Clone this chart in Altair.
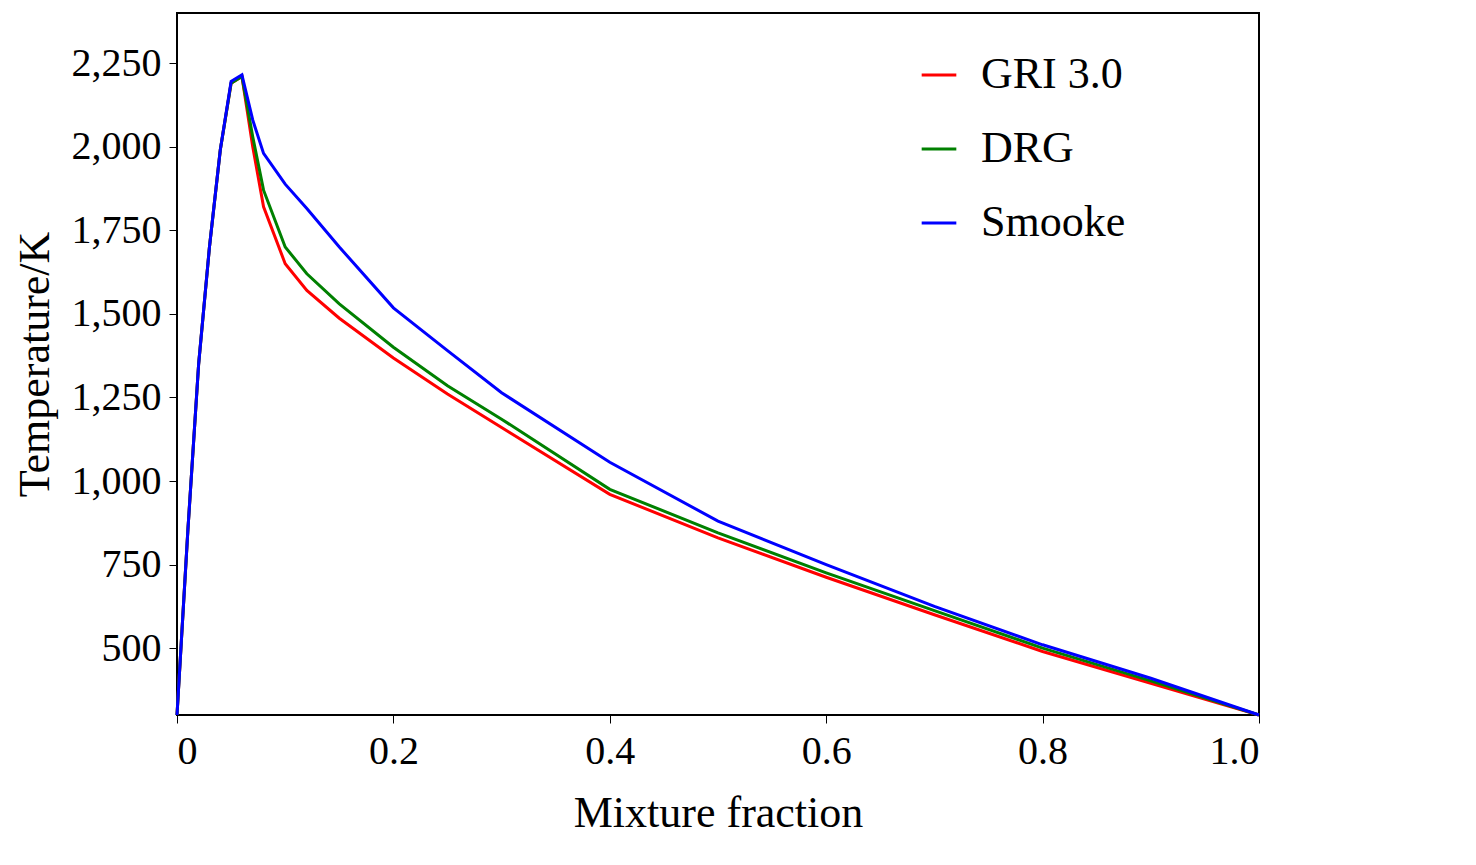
import altair as alt
import pandas as pd

x_gri = [0, 0.01, 0.02, 0.03, 0.04, 0.05, 0.06, 0.07, 0.08, 0.1, 0.12, 0.15, 0.2, 0.25, 0.3, 0.4, 0.5, 0.6, 0.7, 0.8, 0.9, 1.0]
t_gri = [300, 850, 1350, 1700, 1990, 2190, 2210, 2000, 1820, 1650, 1570, 1487, 1368, 1260, 1160, 960, 830, 712, 600, 490, 395, 300]
t_drg = [300, 850, 1350, 1700, 1990, 2190, 2210, 2030, 1870, 1700, 1620, 1530, 1400, 1285, 1185, 975, 845, 725, 612, 500, 402, 300]
t_smk = [300, 850, 1350, 1700, 1990, 2195, 2215, 2080, 1980, 1888, 1815, 1700, 1518, 1390, 1264, 1056, 880, 750, 625, 510, 410, 300]

names = ["GRI 3.0", "DRG", "Smooke"]
colors = ["#ff0000", "#008000", "#0000ff"]

rows = []
for name, ts in zip(names, [t_gri, t_drg, t_smk]):
    for xv, tv in zip(x_gri, ts):
        rows.append({"x": xv, "T": tv, "model": name})
df = pd.DataFrame(rows)

font = "Liberation Serif"
chart = alt.Chart(df).mark_line(strokeWidth=3).encode(
    x=alt.X("x:Q", title="Mixture fraction",
            scale=alt.Scale(domain=[0, 1], nice=False),
            axis=alt.Axis(values=[0, 0.2, 0.4, 0.6, 0.8, 1.0],
                          labelExpr="datum.value == 0 ? '0' : format(datum.value, '.1f')",
                          titlePadding=20)),
    y=alt.Y("T:Q", title="Temperature/K",
            scale=alt.Scale(domain=[300, 2400], nice=False),
            axis=alt.Axis(values=[500, 750, 1000, 1250, 1500, 1750, 2000, 2250], titlePadding=14)),
    color=alt.Color("model:N", sort=names,
                    scale=alt.Scale(domain=names, range=colors),
                    legend=alt.Legend(title=None, orient="none", legendX=740, legendY=40,
                                      symbolType="stroke", symbolStrokeWidth=3, symbolSize=1200,
                                      labelFontSize=44, labelFont=font, rowPadding=30,
                                      labelOffset=20)),
    order="model:N",
).properties(width=1082, height=702).configure_axis(
    labelFont=font, titleFont=font, labelFontSize=40, titleFontSize=44,
    titleFontWeight="normal", labelColor="black", titleColor="black",
    grid=False, domainColor="black", tickColor="black", tickSize=8, labelPadding=8,
).configure_view(stroke="black", strokeWidth=2)

chart.save("out.html", embed_options={"renderer": "svg", "actions": False})
